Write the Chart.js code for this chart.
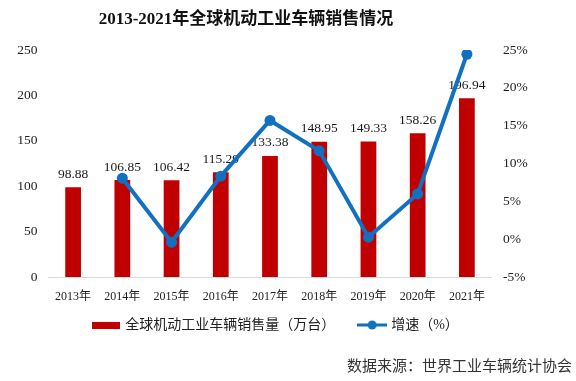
<!DOCTYPE html>
<html><head><meta charset="utf-8">
<script src="https://cdn.jsdelivr.net/npm/chart.js@4/dist/chart.umd.min.js"></script>
<style>html,body{margin:0;padding:0;background:#fff;}#wrap{width:576px;height:381px;position:relative;}</style>
</head><body><div id="wrap"><canvas id="c" width="576" height="381"></canvas></div>
<script>
const titleText = '2013-2021年全球机动工业车辆销售情况';
const sourceText = '数据来源：世界工业车辆统计协会';
const years = ['2013年','2014年','2015年','2016年','2017年','2018年','2019年','2020年','2021年'];
const sales = [98.88,106.85,106.42,115.29,133.38,148.95,149.33,158.26,196.94];
const growth = [null,8.06,-0.40,8.33,15.69,11.67,0.26,5.98,24.44];
const salesLabel = '全球机动工业车辆销售量（万台）';
const growthLabel = '增速（%）';
const leftTicks = [0,50,100,150,200,250];
const rightTicks = [-5,0,5,10,15,20,25];

const RED = '#C00000', BLUE = '#1170C0';
const SERIF = "'Liberation Serif','Noto Sans CJK SC',serif";
const W = 576, H = 381;
const PLOT_LEFT = 48.5, PLOT_RIGHT = 491.5;
const PAD_RIGHT = 23;

function mkBarImg(){const c=document.createElement('canvas');c.width=28;c.height=7;const x=c.getContext('2d');x.fillStyle=RED;x.fillRect(0,0,28,7);return c;}
function mkLineImg(){const c=document.createElement('canvas');c.width=30;c.height=12;const x=c.getContext('2d');x.strokeStyle=BLUE;x.lineWidth=3;x.beginPath();x.moveTo(0,6);x.lineTo(30,6);x.stroke();x.fillStyle=BLUE;x.beginPath();x.arc(15,6,4.5,0,Math.PI*2);x.fill();return c;}
const barImg = mkBarImg(), lineImg = mkLineImg();

const decor = {
  id:'decor',
  afterDatasetDraw(chart, args){
    if (args.index !== 1) return;
    const ctx = chart.ctx, meta = chart.getDatasetMeta(1);
    ctx.save();
    ctx.font = '13.5px ' + SERIF;
    ctx.fillStyle = '#1a1a1a';
    ctx.textAlign = 'center'; ctx.textBaseline = 'middle';
    meta.data.forEach((b,i)=>{ ctx.fillText(sales[i].toFixed(2), b.x, b.y - 13); });
    ctx.restore();
  },
  afterDraw(chart){
    const ctx = chart.ctx;
    ctx.save();
    ctx.fillStyle = '#111';
    ctx.font = 'bold 17px ' + SERIF;
    ctx.textAlign = 'center'; ctx.textBaseline = 'middle';
    ctx.fillText(titleText, 246, 20);
    ctx.font = '15px ' + SERIF;
    ctx.fillStyle = '#333';
    ctx.textAlign = 'right';
    ctx.fillText(sourceText, 572, 367);
    ctx.restore();
  }
};

new Chart(document.getElementById('c'), {
  data: {
    labels: years,
    datasets: [
      { type:'line', label: growthLabel, data: growth, yAxisID:'y1', borderColor: BLUE, backgroundColor: BLUE,
        borderWidth: 4, pointRadius: 5.5, pointBackgroundColor: BLUE, pointBorderWidth: 0, tension: 0, spanGaps: true, order: 0 },
      { type:'bar', label: salesLabel, data: sales, yAxisID:'y', backgroundColor: RED, borderWidth: 0,
        barPercentage: 0.32, categoryPercentage: 1, order: 1 }
    ]
  },
  options: {
    responsive: false, animation: false,
    layout: { padding: { top: 50, left: 0, right: PAD_RIGHT, bottom: 39 } },
    plugins: {
      tooltip: { enabled: false },
      title: { display: false },
      legend: {
        position: 'bottom',
        labels: {
          usePointStyle: true, pointStyleWidth: 24, padding: 11,
          font: { size: 14, family: SERIF }, color: '#222',
          generateLabels(chart){
            return [
              { text: salesLabel + '\u2003', pointStyle: barImg, fillStyle: RED, strokeStyle: RED, lineWidth: 0, hidden: false, datasetIndex: 1, fontColor: '#222' },
              { text: growthLabel, pointStyle: lineImg, fillStyle: BLUE, strokeStyle: BLUE, lineWidth: 0, hidden: false, datasetIndex: 0, fontColor: '#222' }
            ];
          }
        }
      }
    },
    scales: {
      x: {
        grid: { display: false, drawTicks: false },
        border: { display: true, color: '#D9D9D9', width: 1 },
        ticks: { font: { size: 12, family: SERIF }, color: '#222', padding: 13, maxRotation: 0, autoSkip: false },
        afterFit(s){ s.height = 30; }
      },
      y: {
        position: 'left', min: 0, max: 250,
        grid: { display: false, drawTicks: false }, border: { display: false },
        afterBuildTicks(s){ s.ticks = leftTicks.map(v=>({value:v})); },
        ticks: { font: { size: 13.5, family: SERIF }, color: '#222', padding: 11 },
        afterFit(s){ s.width = PLOT_LEFT; }
      },
      y1: {
        position: 'right', min: -5, max: 25,
        grid: { display: false, drawTicks: false }, border: { display: false },
        afterBuildTicks(s){ s.ticks = rightTicks.map(v=>({value:v})); },
        ticks: { font: { size: 13.5, family: SERIF }, color: '#222', padding: 11.5, callback: v => v + '%' },
        afterFit(s){ s.width = W - PAD_RIGHT - PLOT_RIGHT; }
      }
    }
  },
  plugins: [decor]
});
</script></body></html>
